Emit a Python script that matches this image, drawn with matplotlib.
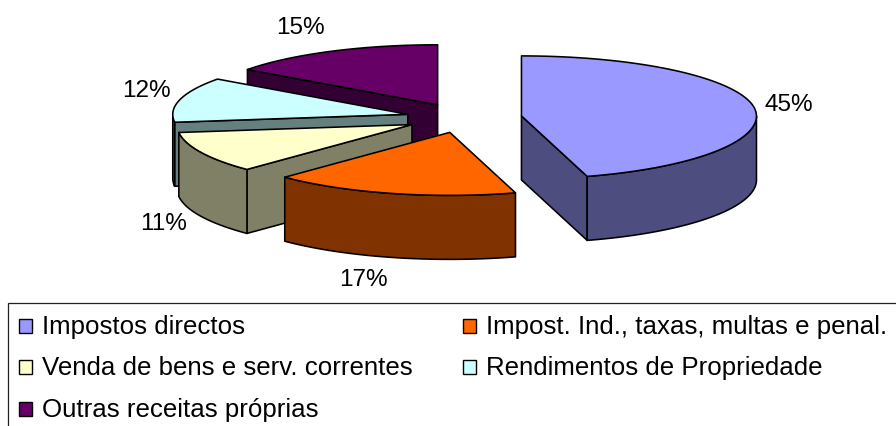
import numpy as np
import matplotlib
matplotlib.use('Agg')
import matplotlib.pyplot as plt
from matplotlib.patches import Rectangle

plt.rcParams['font.family'] = ['Liberation Sans', 'DejaVu Sans']

labels = ['Impostos directos', 'Impost. Ind., taxas, multas e penal.',
          'Venda de bens e serv. correntes', 'Rendimentos de Propriedade',
          'Outras receitas próprias']
# the labels show them rounded
values = [45.49, 16.9, 10.6, 12.0, 15.01]
top_colors = ['#9999FF', '#FF6600', '#FFFFCC', '#CCFFFF', '#660066']
side_colors = ['#4D4D80', '#803300', '#808066', '#668080', '#330033']

# pie geometry in pixels
CX, CY = 464, 119
A, B = 235, 60
B_FRONT = 63  # near half of the pie looks a bit deeper
DEPTH = 64
EXPLODE = 0.247
EDGE = 'black'
LW = 1.15


def rim(start, end, ax0, ay0):
    t = np.radians(np.linspace(start, end, 80))
    c = np.cos(t)
    return ax0 + A * np.sin(t), ay0 - np.where(c < 0, B_FRONT, B) * c


fig = plt.figure(figsize=(8.96, 4.27), dpi=100)
ax = fig.add_axes([0, 0, 1, 1])
ax.set_xlim(0, 896)
ax.set_ylim(427, 0)
ax.axis('off')

fracs = np.array(values) / sum(values)
ends = np.cumsum(fracs) * 360
starts = ends - fracs * 360
apex = []
for s, e in zip(starts, ends):
    mid = np.radians((s + e) / 2)
    apex.append((CX + EXPLODE * A * np.sin(mid), CY - EXPLODE * B * np.cos(mid)))

# back to front: purple, cyan, beige, orange, blue
for i in [4, 3, 2, 1, 0]:
    s, e = starts[i], ends[i]
    x0, y0 = apex[i]
    rx, ry = rim(s, e, x0, y0)
    # radial walls, only those facing the viewer
    walls = []
    if s > 180:
        walls.append((rx[0], ry[0]))
    if e < 180:
        walls.append((rx[-1], ry[-1]))
    for ex, ey in walls:
        ax.fill([x0, ex, ex, x0], [y0, ey, ey + DEPTH, y0 + DEPTH],
                fc=side_colors[i], ec=EDGE, lw=LW, joinstyle='round')
    # outer wall
    lo, hi = max(s, 90), min(e, 270)
    if hi > lo:
        wx, wy = rim(lo, hi, x0, y0)
        ax.fill(np.r_[wx, wx[::-1]], np.r_[wy, wy[::-1] + DEPTH],
                fc=side_colors[i], ec=EDGE, lw=LW, joinstyle='round')
    # top face
    ax.fill(np.r_[x0, rx], np.r_[y0, ry], fc=top_colors[i], ec=EDGE, lw=LW,
            joinstyle='round')

pct_pos = [(789, 105), (363, 280), (164, 224), (146, 91), (300, 28)]
for v, (px, py) in zip(values, pct_pos):
    ax.text(px, py, f'{v:.0f}%', fontsize=17.5, ha='center', va='center', color='black')

# legend, box runs off the right and bottom of the picture
ax.add_patch(Rectangle((8, 304), 900, 140, fc='white', ec='#222222', lw=0.9, clip_on=True))
leg_pos = [(19, 327), (463, 327), (19, 368), (463, 368), (19, 410)]
for lab, c, (lx, ly) in zip(labels, top_colors, leg_pos):
    ax.add_patch(Rectangle((lx, ly - 7), 13, 14, fc=c, ec='black', lw=1.0))
    ax.text(lx + 23, ly, lab, fontsize=18.6, ha='left', va='center', color='black')

fig.savefig('out.png', dpi=100)
